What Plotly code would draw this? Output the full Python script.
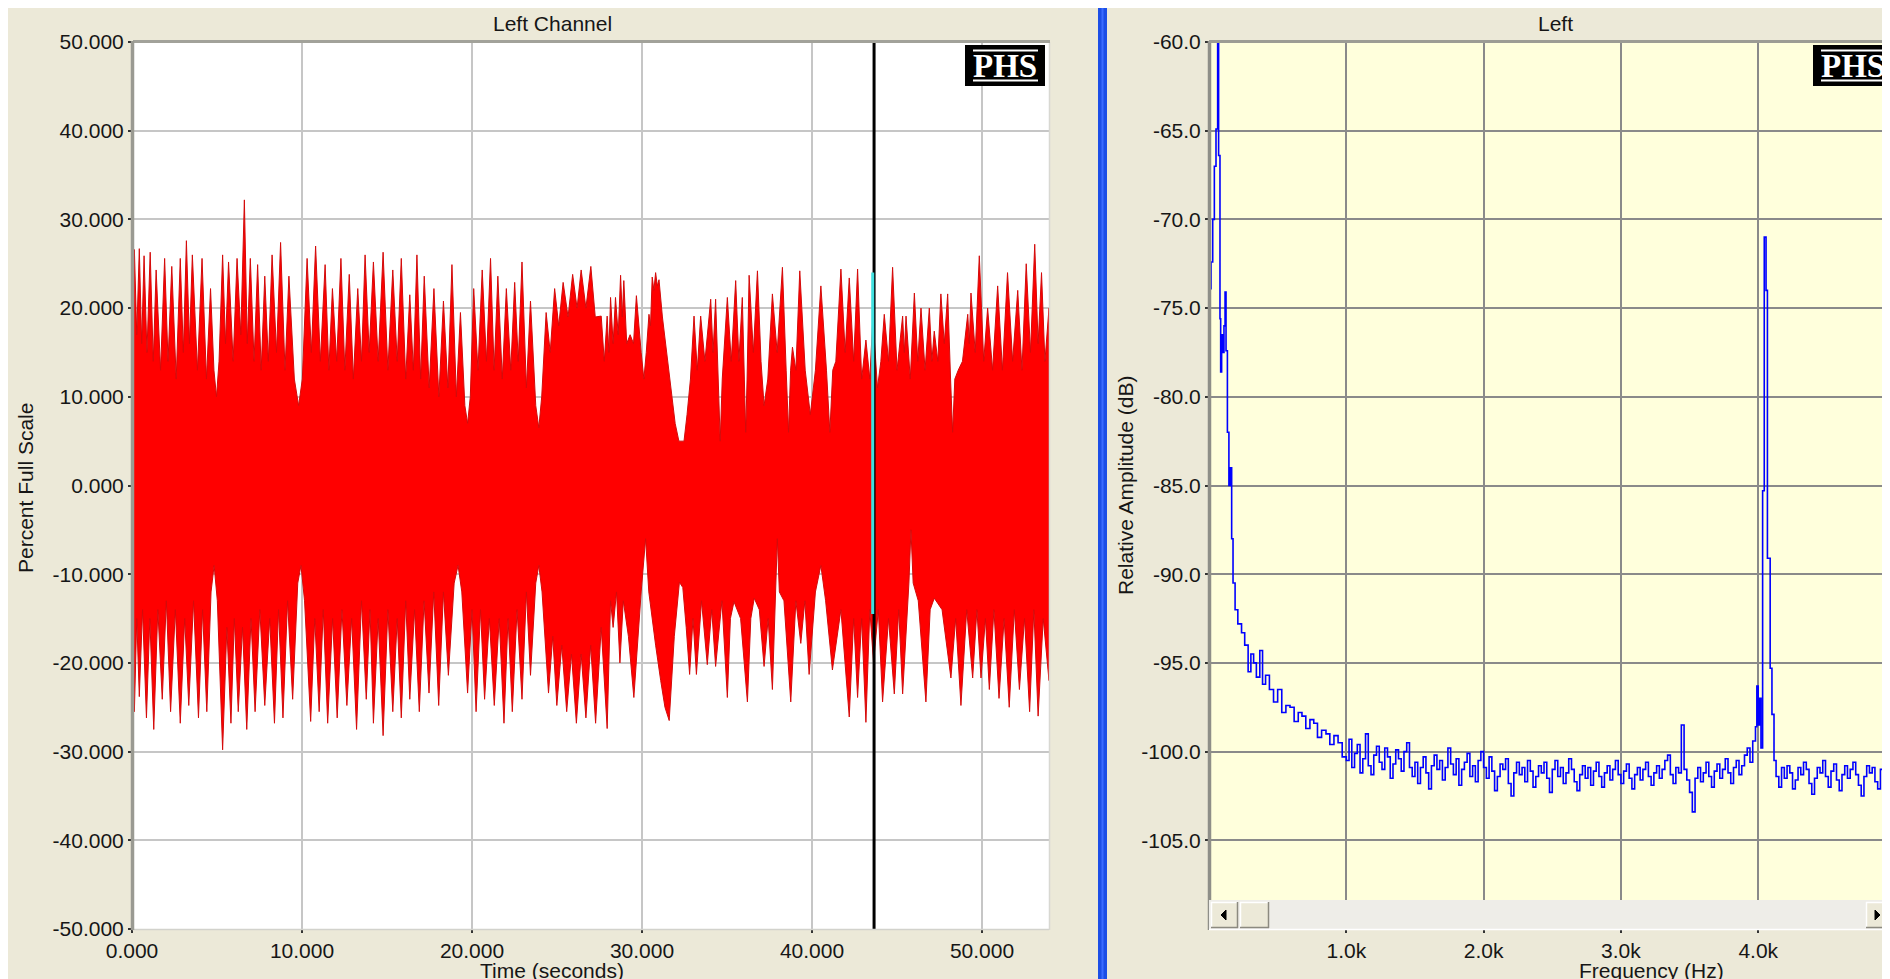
import plotly.graph_objects as go

W, H = 1890, 979
OFF = 8  # page body margin


def sx(x):
    return (x - OFF) / W


def sy(y):
    return 1 - (y - OFF) / H


# ---------------- data ----------------
time_ticks = [0, 10, 20, 30, 40, 50]
pct_ticks = [-50, -40, -30, -20, -10, 0, 10, 20, 30, 40, 50]
freq_ticks = [1000, 2000, 3000, 4000]
freq_tick_text = ["1.0k", "2.0k", "3.0k", "4.0k"]
db_ticks = [-105, -100, -95, -90, -85, -80, -75, -70, -65, -60]

# upper contour of the waveform: (seconds, percent full scale), peaks and troughs
upper = [
    (0.00, 20), (0.14, 26.6), (0.28, 17), (0.43, 26.7), (0.57, 16), (0.71, 25.9), (0.88, 15),
    (1.07, 26.3), (1.25, 14), (1.42, 24.3), (1.68, 13), (1.92, 25.6), (2.12, 14), (2.34, 24.7),
    (2.60, 12), (2.84, 25.6), (3.02, 15), (3.20, 27.6), (3.38, 16), (3.55, 26.0), (3.85, 13),
    (4.12, 25.6), (4.38, 12), (4.62, 22.2), (4.82, 13), (4.97, 10), (5.12, 14), (5.33, 26.0),
    (5.50, 16), (5.68, 25.2), (5.95, 14), (6.18, 25.6), (6.40, 17), (6.61, 32.2), (6.78, 16),
    (6.96, 25.6), (7.18, 14), (7.39, 24.9), (7.60, 13), (7.81, 23.6), (8.02, 14), (8.24, 26.0),
    (8.50, 15), (8.74, 27.4), (9.00, 13), (9.23, 23.6), (9.55, 12), (9.80, 9), (10.02, 12),
    (10.30, 25.6), (10.55, 15), (10.80, 27.0), (11.08, 14), (11.36, 24.9), (11.58, 13),
    (11.79, 22.2), (12.04, 14), (12.29, 25.6), (12.52, 13), (12.78, 23.8), (13.02, 12),
    (13.28, 22.2), (13.50, 14), (13.71, 26.0), (13.95, 15), (14.20, 25.2), (14.48, 14),
    (14.77, 26.3), (15.05, 13), (15.34, 24.3), (15.60, 14), (15.84, 25.6), (16.10, 12),
    (16.34, 21.5), (16.55, 13), (16.76, 26.0), (16.98, 12), (17.19, 23.6), (17.48, 11),
    (17.76, 22.2), (18.05, 10), (18.32, 20.8), (18.58, 11), (18.82, 24.9), (19.08, 10),
    (19.32, 19.5), (19.58, 9), (19.74, 7), (19.90, 10), (20.10, 22.2), (20.35, 13),
    (20.60, 24.3), (20.85, 14), (21.09, 25.6), (21.30, 13), (21.52, 23.6), (21.78, 12),
    (22.02, 22.2), (22.28, 13), (22.51, 22.9), (22.72, 14), (22.94, 25.2), (23.20, 11),
    (23.44, 20.8), (23.75, 9), (23.93, 6.5), (24.10, 10), (24.36, 19.5), (24.60, 15),
    (24.86, 22.2), (25.10, 18), (25.36, 22.9), (25.65, 19), (25.92, 23.8), (26.18, 20),
    (26.42, 24.3), (26.70, 20), (26.99, 24.7), (27.25, 19), (27.60, 19.1), (27.78, 14),
    (27.95, 19.1), (28.05, 15), (28.15, 21.2), (28.30, 16), (28.44, 21.2), (28.60, 17),
    (28.74, 23.7), (28.84, 19), (28.93, 23.1), (29.10, 16), (29.30, 17), (29.50, 16),
    (29.67, 21.4), (29.95, 15), (30.11, 12), (30.25, 15), (30.41, 19.3), (30.50, 18),
    (30.60, 23.5), (30.70, 22), (30.80, 24.0), (30.90, 22.5), (31.00, 23.2), (31.20, 19),
    (31.45, 15), (31.70, 10.5), (31.95, 7), (32.17, 5), (32.47, 5), (32.65, 8),
    (32.85, 12), (33.06, 19.1), (33.25, 13), (33.45, 19.1), (33.70, 14), (34.04, 21.0),
    (34.18, 15), (34.33, 21.0), (34.48, 12), (34.60, 5), (34.72, 12), (35.02, 21.2),
    (35.25, 14), (35.51, 23.1), (35.70, 14), (35.90, 21.2), (36.02, 12), (36.10, 6),
    (36.18, 12), (36.30, 23.7), (36.55, 15), (36.79, 24.2), (37.00, 14), (37.18, 9),
    (37.40, 12), (37.67, 21.6), (37.95, 15), (38.26, 24.6), (38.48, 13), (38.62, 6),
    (38.74, 13), (38.85, 15.6), (39.05, 13), (39.28, 24.2), (39.60, 13), (39.90, 8),
    (40.20, 13), (40.52, 22.5), (40.85, 13), (41.05, 6), (41.22, 13), (41.40, 14),
    (41.70, 24.4), (41.95, 15), (42.19, 23.4), (42.45, 14), (42.68, 24.4), (42.92, 12),
    (43.17, 16.4), (43.40, 12), (43.58, 19), (43.85, 11), (44.05, 14), (44.25, 19.3),
    (44.50, 14), (44.74, 24.6), (45.00, 13), (45.33, 19.1), (45.43, 15), (45.53, 19.1),
    (45.78, 12), (46.02, 21.7), (46.22, 14), (46.41, 20.0), (46.65, 13), (46.90, 20.0),
    (47.05, 14), (47.19, 17.4), (47.40, 14), (47.58, 21.6), (47.78, 16), (47.98, 21.6),
    (48.15, 12), (48.27, 6), (48.40, 12), (48.60, 13), (48.85, 14), (49.16, 19.3),
    (49.25, 16), (49.35, 21.7), (49.60, 15), (49.84, 25.9), (50.10, 14), (50.33, 20.0),
    (50.62, 13), (50.92, 22.5), (51.20, 13), (51.50, 24.0), (51.80, 14), (52.10, 22.0),
    (52.35, 13), (52.60, 25.0), (52.85, 15), (53.10, 27.2), (53.30, 16), (53.50, 24.0),
    (53.70, 14), (53.94, 20.0),
]

# lower contour of the waveform: (seconds, percent full scale), dips and troughs
lower = [
    (0.00, -20), (0.14, -25.5), (0.28, -15), (0.43, -23.8), (0.62, -14), (0.85, -26.2),
    (1.05, -15), (1.28, -27.5), (1.52, -14), (1.78, -24.1), (2.02, -13), (2.27, -25.5),
    (2.55, -14), (2.84, -26.8), (3.10, -15), (3.34, -24.8), (3.62, -13), (3.91, -26.2),
    (4.15, -14), (4.40, -25.5), (4.65, -12), (4.83, -9), (5.02, -13), (5.33, -29.8),
    (5.58, -16), (5.82, -26.8), (6.02, -15), (6.25, -25.5), (6.50, -16), (6.75, -27.5),
    (7.00, -15), (7.24, -25.5), (7.52, -14), (7.81, -24.8), (8.10, -15), (8.38, -26.8),
    (8.62, -14), (8.88, -26.2), (9.15, -13), (9.45, -24.1), (9.75, -11), (9.94, -9),
    (10.15, -13), (10.51, -26.6), (10.75, -15), (11.01, -25.5), (11.25, -14), (11.51, -26.8),
    (11.80, -15), (12.07, -26.2), (12.35, -14), (12.64, -24.8), (12.92, -15), (13.21, -27.5),
    (13.50, -13), (13.78, -24.1), (14.00, -14), (14.20, -26.8), (14.48, -15), (14.77, -28.2),
    (15.05, -14), (15.34, -25.5), (15.60, -15), (15.84, -26.2), (16.10, -13), (16.34, -24.1),
    (16.62, -14), (16.90, -25.5), (17.18, -13), (17.47, -23.4), (17.75, -12), (18.04, -24.8),
    (18.32, -12), (18.61, -21.4), (18.95, -11), (19.18, -9), (19.40, -12), (19.74, -23.4),
    (20.00, -14), (20.24, -25.5), (20.50, -14), (20.74, -24.1), (21.02, -15), (21.31, -24.8),
    (21.60, -15), (21.88, -26.8), (22.12, -15), (22.37, -25.5), (22.65, -14), (22.94, -24.1),
    (23.20, -12), (23.44, -21.4), (23.75, -11), (23.93, -9), (24.12, -12), (24.50, -23.4),
    (24.75, -17), (24.99, -24.8), (25.28, -18), (25.57, -25.5), (25.85, -19), (26.14, -26.8),
    (26.42, -19), (26.70, -26.2), (26.98, -18), (27.27, -26.8), (27.60, -16), (27.95, -27.4),
    (28.15, -13), (28.30, -16), (28.50, -12), (28.70, -20), (28.90, -13), (29.20, -17),
    (29.52, -23.9), (29.95, -12), (30.21, -6), (30.40, -12), (30.80, -18), (31.10, -22),
    (31.35, -25), (31.60, -26.5), (31.90, -17), (32.20, -10.9), (32.40, -11.5), (32.60, -16),
    (32.80, -21.3), (33.00, -15), (33.20, -21.3), (33.50, -13), (33.84, -20.2), (34.10, -14),
    (34.33, -20.4), (34.70, -13), (35.02, -23.9), (35.20, -15), (35.41, -13.1), (35.80, -15),
    (36.20, -24.4), (36.40, -15), (36.60, -12.7), (36.90, -14), (37.18, -20.4), (37.42, -15),
    (37.67, -23.0), (37.85, -12), (37.96, -6), (38.08, -12), (38.35, -13), (38.75, -24.4),
    (39.05, -13), (39.34, -17.8), (39.58, -13), (39.83, -21.3), (40.20, -12), (40.52, -9),
    (40.80, -13), (41.20, -20.8), (41.70, -14), (42.19, -26.1), (42.45, -15), (42.68, -23.9),
    (42.92, -15), (43.17, -26.7), (43.40, -14), (43.62, -20), (43.90, -14), (44.15, -24.4),
    (44.50, -15), (44.84, -23.5), (45.10, -14), (45.33, -23.5), (45.70, -11), (45.82, -5),
    (45.95, -11), (46.25, -13), (46.70, -24.4), (46.95, -14), (47.19, -12.7), (47.65, -14),
    (48.17, -21.7), (48.45, -15), (48.76, -24.8), (49.10, -14), (49.45, -21.7), (49.70, -14),
    (49.94, -21.7), (50.20, -15), (50.43, -23.0), (50.70, -14), (51.00, -24), (51.30, -15),
    (51.60, -25), (51.90, -14), (52.20, -23), (52.50, -15), (52.80, -25.5), (53.05, -14),
    (53.30, -26), (53.60, -15), (53.94, -22),
]
up_t = [p[0] for p in upper]
up_v = [p[1] for p in upper]
lo_t = [p[0] for p in lower]
lo_v = [p[1] for p in lower]

cursor_time = 43.65
marker_low, marker_high = -14.5, 24.0

# spectrum (Hz, dB): low-frequency part
low_f = [0, 15, 27, 39, 51, 63, 70, 80, 85, 92, 100, 109, 117, 124, 134, 145, 155, 165,
         175, 190, 210, 237, 260, 285, 305, 325, 345, 370, 390, 412, 440, 470, 500, 530,
         560, 590, 620, 650, 677, 705, 735, 763, 790, 820, 852, 880, 910, 940, 970]
low_db = [-73.9, -72.4, -70, -67.0, -64.9, -58, -66.4, -75.6, -78.6, -76.5, -77.5, -76,
          -74.1, -77.4, -82, -85, -84, -88, -90.5, -92, -92.8, -93.3, -94, -95.5, -94.5,
          -95, -95.8, -94.3, -96.2, -95.7, -96.5, -97.2, -96.5, -97.8, -97.4, -97.5, -98.3,
          -97.8, -98, -98.7, -98.2, -98.4, -99.2, -98.8, -99, -99.6, -99.1, -99.5, -100.3]
# noise floor 1000..3960 Hz in 20 Hz bins
floor_a_f = list(range(1000, 3980, 20))
floor_a_db = [
    -100.5, -99.3, -100.9, -100.1, -99.6, -101.2, -100.4, -99.0, -100.8, -101.3, -100.2, -99.7,
    -100.6, -101.0, -99.8, -100.3, -101.5, -100.7, -99.9, -100.4, -101.1, -100.0, -99.5, -100.9,
    -101.4,
    -100.6, -101.8, -100.9, -100.3, -101.2, -102.1, -100.8, -100.2, -101.0, -100.5, -101.6,
    -100.9, -99.8, -100.7, -101.3, -100.4, -101.9, -101.0, -100.6, -100.1, -101.4, -100.8,
    -101.7, -100.5, -100.0,
    -100.9, -101.5, -100.3, -101.1, -102.2, -101.4, -100.7, -101.0, -100.4, -101.8, -102.5,
    -101.2, -100.6, -101.3, -100.9, -101.7, -100.5, -101.1, -102.0, -101.4, -100.8, -101.2,
    -100.6, -101.5, -102.3,
    -101.0, -100.5, -101.4, -100.9, -101.8, -101.2, -100.4, -101.0, -101.7, -102.2, -101.3,
    -100.8, -101.5, -100.9, -101.9, -101.1, -100.6, -101.4, -102.0, -101.2, -100.8, -101.6,
    -101.0, -100.5, -101.3,
    -101.8, -101.1, -100.7, -101.5, -102.1, -101.3, -100.9, -101.6, -101.0, -100.6, -101.4,
    -101.9, -101.2, -100.8, -101.5, -101.0, -100.5, -100.2, -101.3, -101.8, -100.9, -101.2,
    -98.5, -101.0, -101.6,
    -102.3, -103.4, -101.5, -100.9, -101.7, -101.2, -100.6, -101.4, -102.0, -101.1, -100.7,
    -101.5, -101.0, -100.4, -101.2, -101.8, -100.9, -100.5, -101.3, -100.8, -100.2, -99.8,
    -100.6, -99.4,
]
# tone region around 4 kHz
tone_f = [3980, 3990, 4000, 4010, 4020, 4032, 4044, 4057, 4067, 4087, 4100, 4115]
tone_db = [-98.6, -96.3, -98.5, -97.0, -99.8, -85.3, -71.0, -74.0, -89.1, -95.3, -97.9, -100.5]
# noise floor 4130..4990 Hz in 20 Hz bins
floor_b_f = list(range(4130, 5000, 20))
floor_b_db = [
    -101.4, -102.0, -100.9, -101.5, -100.8, -101.2, -102.1, -101.6, -100.9, -101.3, -100.6,
    -101.0, -101.8, -102.4, -101.5, -100.9, -101.2, -100.5, -101.4, -102.0, -101.1, -100.7,
    -101.6, -102.2, -101.3, -100.8, -101.5, -101.0, -100.6, -101.3, -101.9, -102.5, -101.4,
    -100.8, -101.2, -100.9, -101.7, -102.1, -101.0, -100.6, -101.4, -101.8, -101.1, -100.7,
]

spec_f = low_f + floor_a_f + tone_f + floor_b_f
spec_db = low_db + floor_a_db + tone_db + floor_b_db

# ---------------- figure ----------------
fig = go.Figure()

wave_x = up_t + lo_t[::-1]
wave_y = up_v + lo_v[::-1]
fig.add_trace(go.Scatter(x=wave_x, y=wave_y, mode="lines", fill="toself",
                         fillcolor="#FF0000", line=dict(color="#D40A0A", width=1),
                         hoverinfo="skip", xaxis="x", yaxis="y", showlegend=False))
fig.add_trace(go.Scatter(x=[cursor_time, cursor_time], y=[-50, 50], mode="lines",
                         line=dict(color="#000000", width=3), xaxis="x", yaxis="y",
                         showlegend=False, hoverinfo="skip"))
fig.add_trace(go.Scatter(x=[cursor_time - 0.08, cursor_time - 0.08], y=[marker_low, marker_high],
                         mode="lines", line=dict(color="#40E0E0", width=3), xaxis="x", yaxis="y",
                         showlegend=False, hoverinfo="skip"))

fig.add_trace(go.Scatter(x=spec_f, y=spec_db, mode="lines", line=dict(color="#0000FF", width=1.6, shape="hv"),
                         xaxis="x2", yaxis="y2", showlegend=False, hoverinfo="skip", cliponaxis=True))

FONT = "Liberation Sans, Arial, sans-serif"
TXT = "#161616"
ydom = [sy(929), sy(42)]

common = dict(ticks="outside", ticklen=3, tickwidth=2, tickcolor="#333333",
              tickfont=dict(family=FONT, size=21, color=TXT), showline=False,
              zeroline=False, fixedrange=True, automargin=False)

fig.update_layout(
    template="none",
    width=W, height=H,
    margin=dict(l=0, r=0, t=0, b=0, pad=0, autoexpand=False),
    paper_bgcolor="#ECE9D8",
    plot_bgcolor="#FFFFFF",
    showlegend=False,
    xaxis=dict(domain=[sx(132), sx(1049)], range=[0, 53.94], tickvals=time_ticks,
               ticktext=[f"{v:.3f}" for v in time_ticks], showgrid=True, gridcolor="#C6C6C6",
               gridwidth=1.5, anchor="y", **common),
    yaxis=dict(domain=ydom, range=[-50, 50], tickvals=pct_ticks,
               ticktext=[f"{v:.3f}" for v in pct_ticks], showgrid=True, gridcolor="#C6C6C6",
               gridwidth=1.5, anchor="x", **common),
    xaxis2=dict(domain=[sx(1209), 1.0], range=[0, 5018], tickvals=freq_ticks,
                ticktext=freq_tick_text, showgrid=True, gridcolor="#8A8A8A", gridwidth=2,
                anchor="y2", **common),
    yaxis2=dict(domain=ydom, range=[-110, -60], tickvals=db_ticks,
                ticktext=[f"{v:.1f}" for v in db_ticks], showgrid=True, gridcolor="#8A8A8A",
                gridwidth=2, anchor="x2", **common),
)

shapes = []


def rect(x0, y0, x1, y1, fill, line_color=None, lw=0, layer="above"):
    shapes.append(dict(type="rect", xref="paper", yref="paper", x0=sx(x0), x1=sx(x1),
                       y0=sy(y1), y1=sy(y0), fillcolor=fill,
                       line=dict(color=line_color or fill, width=lw), layer=layer))


def line(x0, y0, x1, y1, color, w, layer="above"):
    shapes.append(dict(type="line", xref="paper", yref="paper", x0=sx(x0), x1=sx(x1),
                       y0=sy(y0), y1=sy(y1), line=dict(color=color, width=w), layer=layer))


def tri(pts, color):
    p = "M " + " L ".join(f"{sx(x)},{sy(y)}" for x, y in pts) + " Z"
    shapes.append(dict(type="path", xref="paper", yref="paper", path=p, fillcolor=color,
                       line=dict(color=color, width=1), layer="above"))


# right plot background (light yellow)
shapes.append(dict(type="rect", xref="x2 domain", yref="y2 domain", x0=0, x1=1, y0=0, y1=1,
                   fillcolor="#FFFFDC", line=dict(width=0), layer="below"))

# splitter bar between panels
rect(1098, 8, 1107, 990, "#1C4EE6")
line(1102.5, 8, 1102.5, 990, "#3B6CFF", 2)

# left plot frame
line(132, 929.5, 1049, 929.5, "#D2D2CC", 1.5)
line(1049.5, 42, 1049.5, 930, "#D8D8D2", 1.5)
line(133, 41.5, 1050, 41.5, "#A2A29A", 3)
line(132.5, 41, 132.5, 930, "#9A9A92", 3.5)

# right plot frame
line(1209.5, 41, 1209.5, 930, "#8E8E88", 3.5)
line(1209, 41.5, 1900, 41.5, "#9C9C94", 3)

# scrollbar
rect(1209, 900, 1900, 929, "#EEEDE8")
line(1209, 929.5, 1900, 929.5, "#FFFFFF", 1.5)
for (bx0, bx1) in [(1211, 1238), (1240, 1269), (1866, 1900)]:
    rect(bx0, 902, bx1, 928, "#ECE9D8")
    line(bx0, 902.5, bx1, 902.5, "#FFFFFF", 1.5)
    line(bx0 + 0.5, 902, bx0 + 0.5, 928, "#FFFFFF", 1.5)
    line(bx0, 927.5, bx1, 927.5, "#8C8A80", 1.5)
    line(bx1 - 0.5, 902, bx1 - 0.5, 928, "#8C8A80", 1.5)
tri([(1221, 915), (1226, 910), (1226, 920)], "#000000")
tri([(1880, 915), (1875, 910), (1875, 920)], "#000000")

# PHS badges
for (bx0, bx1) in [(965, 1045), (1813, 1893)]:
    rect(bx0, 45, bx1, 86, "#000000")
    line(bx0 + 8, 50.5, bx1 - 7, 50.5, "#FFFFFF", 2)
    line(bx0 + 8, 80.5, bx1 - 7, 80.5, "#FFFFFF", 2)

fig.update_layout(shapes=shapes)

ann = []


def text(x, y, s, size=21, angle=0, family=FONT, color=TXT, xanchor="center"):
    ann.append(dict(x=sx(x), y=sy(y), xref="paper", yref="paper", text=s, showarrow=False,
                    font=dict(family=family, size=size, color=color), textangle=angle,
                    xanchor=xanchor, yanchor="middle"))


text(552, 24, "Left Channel")
text(1555, 24, "Left")
text(552, 970, "Time (seconds)")
text(1651, 970, "Frequency (Hz)")
text(26, 488, "Percent Full Scale", angle=-90)
text(1125, 486, "Relative Amplitude (dB)", angle=-90)
text(1005, 66, "<b>PHS</b>", size=33, family="Liberation Serif, Times New Roman, serif", color="#FFFFFF")
text(1853, 66, "<b>PHS</b>", size=33, family="Liberation Serif, Times New Roman, serif", color="#FFFFFF")

fig.update_layout(annotations=ann)

fig.write_html("out.html")
